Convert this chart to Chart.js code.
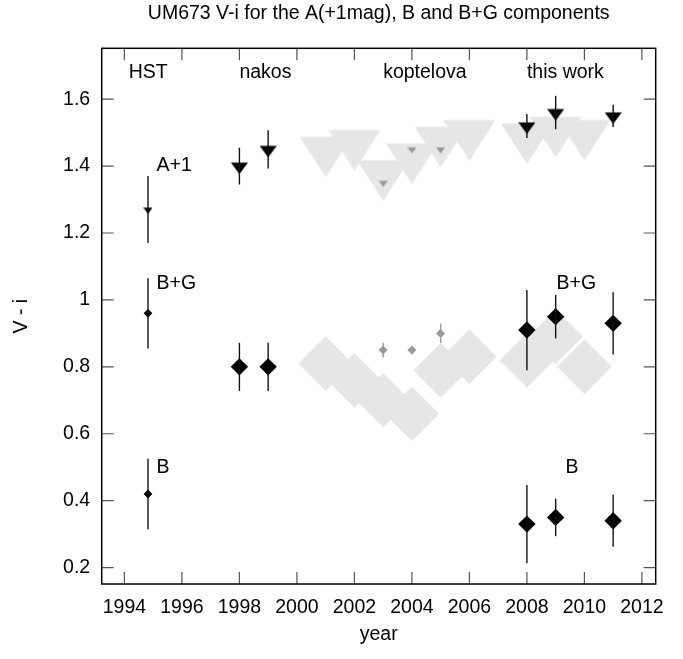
<!DOCTYPE html>
<html>
<head>
<meta charset="utf-8">
<script src="https://cdn.jsdelivr.net/npm/chart.js@4"></script>
<style>
  body { margin: 0; background: #fff; }
</style>
</head>
<body>
<canvas id="myChart" width="683" height="659"></canvas>
<script>
// axis ticks
const xTicks = [1994, 1996, 1998, 2000, 2002, 2004, 2006, 2008, 2010, 2012];
const yTicks = [0.2, 0.4, 0.6, 0.8, 1, 1.2, 1.4, 1.6];

// HST
const hstYear = [1994.82];
const hstA = [1.27], hstAErr = [0.10];
const hstBG = [0.96], hstBGErr = [0.105];
const hstB = [0.42], hstBErr = [0.105];

// nakos
const nakosYears = [1998, 1999];
const nakosA = [1.40, 1.45], nakosAErr = [0.055, 0.057];
const nakosBG = [0.80, 0.80], nakosBGErr = [0.072, 0.072];

// koptelova
const koptYears = [2003, 2004, 2005];
const koptA = [1.35, 1.45, 1.45], koptAErr = [0, 0, 0];
const koptBG = [0.85, 0.85, 0.90], koptBGErr = [0.022, 0, 0.029];

// big light grey shapes
const shadeYears = [2001, 2002, 2003, 2004, 2005, 2006, 2008, 2009, 2010];
const shadeA = [1.45, 1.47, 1.38, 1.43, 1.48, 1.50, 1.49, 1.51, 1.50];
const shadeBG = [0.81, 0.76, 0.70, 0.66, 0.79, 0.83, 0.82, 0.89, 0.80];

// this work
const workYears = [2008, 2009, 2011];
const workA = [1.52, 1.56, 1.55], workAErr = [0.036, 0.05, 0.033];
const workBG = [0.91, 0.95, 0.93], workBGErr = [0.12, 0.065, 0.093];
const workB = [0.33, 0.35, 0.34], workBErr = [0.117, 0.056, 0.078];

// text labels
const sourceNames = ["HST", "nakos", "koptelova", "this work"];
const sourceX = [1994.15, 1998, 2003, 2008];
const sourceY = [1.68, 1.68, 1.68, 1.68];
const compNames = ["A+1", "B+G", "B+G", "B", "B"];
const compX = [1995.12, 1995.12, 2009.03, 1995.12, 2009.34];
const compY = [1.40, 1.05, 1.05, 0.50, 0.50];

const FONT = "'Liberation Sans', Arial, Helvetica, sans-serif";
const FS = 19.5;
const black = "#000";
const grey = "#999999";
const light = "#e6e6e6";

// gnuplot-like filled down triangle, point at canvas centre
function downTri(hw, v, color) {
    const w = Math.round(hw * 2);
    const h = Math.round(v * 2.24);
    const c = document.createElement('canvas');
    c.width = w; c.height = h;
    const g = c.getContext('2d');
    const cy = h / 2;
    g.fillStyle = color;
    g.beginPath();
    g.moveTo(0, cy - 0.5 * v);
    g.lineTo(w, cy - 0.5 * v);
    g.lineTo(w / 2, cy + 1.12 * v);
    g.closePath();
    g.fill();
    return c;
}

const pts = (xs, ys) => xs.map((x, i) => ({x: x, y: ys[i]}));

function set(xs, ys, err, style, radius, color, order) {
    return {
        data: pts(xs, ys),
        err: err,
        errColor: color === grey ? grey : "#111",
        pointStyle: style,
        pointRadius: radius,
        pointBackgroundColor: color,
        pointBorderWidth: 0,
        showLine: false,
        order: order
    };
}

const errorBars = {
    id: 'errorBars',
    afterDatasetDraw(chart, args) {
        const ds = chart.data.datasets[args.index];
        if (!ds.err) return;
        const y = chart.scales.y;
        const ctx = chart.ctx;
        ctx.save();
        ctx.strokeStyle = ds.errColor;
        ctx.lineWidth = 1.4;
        args.meta.data.forEach((p, i) => {
            const e = ds.err[i];
            if (!e) return;
            const v = ds.data[i].y;
            ctx.beginPath();
            ctx.moveTo(p.x, y.getPixelForValue(v - e));
            ctx.lineTo(p.x, y.getPixelForValue(v + e));
            ctx.stroke();
        });
        ctx.restore();
    }
};

const frame = {
    id: 'frame',
    afterDatasetsDraw(chart) {
        const {ctx, chartArea: a, scales: {x, y}} = chart;
        ctx.save();
        ctx.fillStyle = black;
        ctx.font = FS + "px " + FONT;
        ctx.textAlign = "left";
        ctx.textBaseline = "middle";
        sourceNames.forEach((t, i) => ctx.fillText(t, x.getPixelForValue(sourceX[i]), y.getPixelForValue(sourceY[i])));
        compNames.forEach((t, i) => ctx.fillText(t, x.getPixelForValue(compX[i]), y.getPixelForValue(compY[i])));

        ctx.strokeStyle = "#555";
        ctx.lineWidth = 1.2;
        ctx.beginPath();
        x.ticks.forEach(t => {
            const px = x.getPixelForValue(t.value);
            ctx.moveTo(px, a.bottom); ctx.lineTo(px, a.bottom - 12);
            ctx.moveTo(px, a.top); ctx.lineTo(px, a.top + 12);
        });
        y.ticks.forEach(t => {
            const py = y.getPixelForValue(t.value);
            ctx.moveTo(a.left, py); ctx.lineTo(a.left + 12, py);
            ctx.moveTo(a.right, py); ctx.lineTo(a.right - 12, py);
        });
        ctx.stroke();
        ctx.strokeStyle = black;
        ctx.lineWidth = 1.5;
        ctx.strokeRect(a.left, a.top, a.right - a.left, a.bottom - a.top);
        ctx.restore();
    }
};

Chart.defaults.font.family = FONT;
Chart.defaults.font.size = FS;
Chart.defaults.color = black;

new Chart("myChart", {
    type: "scatter",
    data: {
        datasets: [
            set(shadeYears, shadeA, null, downTri(26, 25, light), 5, light, 9),
            set(shadeYears, shadeBG, null, 'rectRot', 27.3, light, 9),
            set(koptYears, koptA, koptAErr, downTri(4.3, 3.8, grey), 5, grey, 5),
            set(koptYears, koptBG, koptBGErr, 'rectRot', 4.5, grey, 5),
            set(hstYear, hstA, hstAErr, downTri(4.3, 4.0, black), 5, black, 1),
            set(hstYear, hstBG, hstBGErr, 'rectRot', 4.4, black, 1),
            set(hstYear, hstB, hstBErr, 'rectRot', 4.4, black, 1),
            set(nakosYears, nakosA, nakosAErr, downTri(8.7, 7.2, black), 5, black, 1),
            set(nakosYears, nakosBG, nakosBGErr, 'rectRot', 8.7, black, 1),
            set(workYears, workA, workAErr, downTri(8.7, 7.2, black), 5, black, 1),
            set(workYears, workBG, workBGErr, 'rectRot', 8.7, black, 1),
            set(workYears, workB, workBErr, 'rectRot', 8.7, black, 1)
        ]
    },
    options: {
        responsive: false,
        animation: false,
        events: [],
        layout: { padding: { left: 0, right: 26.3, top: 0, bottom: 0 } },
        plugins: {
            legend: { display: false },
            tooltip: { enabled: false },
            title: {
                display: true,
                fullSize: false,
                text: "UM673 V-i for the A(+1mag), B and B+G components",
                font: { size: FS, weight: 'normal' },
                color: black,
                padding: { top: 2.3, bottom: 22.6 }
            }
        },
        scales: {
            x: {
                type: 'linear',
                min: 1993.21,
                max: 2012.48,
                grid: { display: false, drawTicks: false },
                border: { display: false },
                afterBuildTicks: s => { s.ticks = xTicks.map(v => ({value: v})); },
                afterFit: s => { s.height = 75; },
                ticks: {
                    autoSkip: false,
                    maxRotation: 0,
                    padding: 11.5,
                    callback: v => String(v)
                },
                title: { display: true, text: "year", padding: { top: 0, bottom: 13 } }
            },
            y: {
                type: 'linear',
                min: 0.151,
                max: 1.752,
                grid: { display: false, drawTicks: false },
                border: { display: false },
                afterBuildTicks: s => { s.ticks = yTicks.map(v => ({value: v})); },
                afterFit: s => { s.width = 101.7; },
                ticks: {
                    autoSkip: false,
                    padding: 11.5,
                    callback: v => String(v)
                },
                title: { display: true, text: "V - i", padding: { top: 10.3, bottom: 0 } }
            }
        }
    },
    plugins: [errorBars, frame]
});
</script>
</body>
</html>
